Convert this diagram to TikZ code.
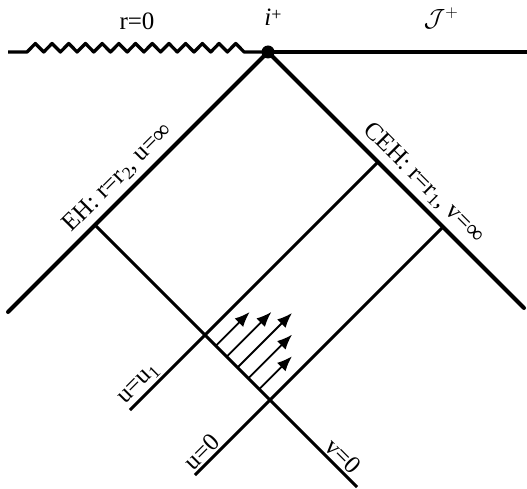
\documentclass[tikz,border=0pt]{standalone}
\usepackage{fontspec}
\setmainfont{Liberation Serif}
\usetikzlibrary{arrows.meta, calc}

\begin{document}
\begin{tikzpicture}[
    x=1pt, y=-1pt,
    every node/.style={font=\fontsize{25}{28}\selectfont},
    horizon/.style={draw, line width=4pt, line cap=round},
    boundary/.style={draw, line width=3.3pt, line join=round},
    ray/.style={draw, line width=3pt},
    flux/.style={draw, line width=1.8pt, -{Latex[length=15pt, width=12pt]}},
    tag/.style={sloped, above, inner sep=2pt}
]
\useasboundingbox (0,0) rectangle (527,489);
% corners of the diagram
\node[circle, fill, inner sep=0pt, minimum size=13pt] (iplus) at (268,52) {};
\coordinate (left)   at (8,52);
\coordinate (zig0)   at (27,52);
\coordinate (right)  at (527,52);
\coordinate (ehend)  at (8,312);
\coordinate (cehend) at (524,308);
\coordinate (ehv)    at (95,225);
\coordinate (vend)   at (357,487);
\coordinate (cehu1)  at (378,162);
\coordinate (u1end)  at (130,410);
\coordinate (cehu0)  at (443,227);
\coordinate (u0end)  at (195,475);
\coordinate (vu1) at (intersection of ehv--vend and u1end--cehu1);
\coordinate (vu0) at (intersection of ehv--vend and u0end--cehu0);

% singularity and future null infinity
\draw[boundary] (left) -- (zig0) \foreach \k in {1,...,13} { -- ++(8.35,-8.5) -- ++(8.35,8.5) } -- (iplus.center);
\draw[boundary] (iplus.center) -- (right);
\node (r0)     at (137,21) {r=0};
\node (iplab)  at (273,17) {\textit{i}\raisebox{0.45ex}{\fontsize{18}{18}\selectfont +}};
\node (scri)   at (441,18) {$\mathcal{J}^{+}$};

% horizons
\draw[horizon] (ehend) -- node[tag, pos=0.47, above=3pt] (ehlab) {EH: r=r\textsubscript{2}, u=∞} (iplus.center);
\draw[horizon] (iplus.center) -- node[tag, pos=0.56, above=3pt] (cehlab) {CEH: r=r\textsubscript{1}, v=∞} (cehend);

% null rays
\draw[ray] (u1end) -- node[tag, pos=0.07] (u1lab) {u=u\textsubscript{1}} (cehu1);
\draw[ray] (u0end) -- node[tag, pos=0.06] (u0lab) {u=0} (cehu0);
\draw[ray] (ehv) -- node[tag, pos=0.914] (v0lab) {v=0} (vend);

% flux between u=u1 and u=0
\foreach \k/\len in {1/33.8, 2/44.7, 3/54.5, 4/43.7, 5/32.8}
    \draw[flux] ($(vu1)!\k/6!(vu0)$) -- ++(\len,-\len);
\end{tikzpicture}
\end{document}
